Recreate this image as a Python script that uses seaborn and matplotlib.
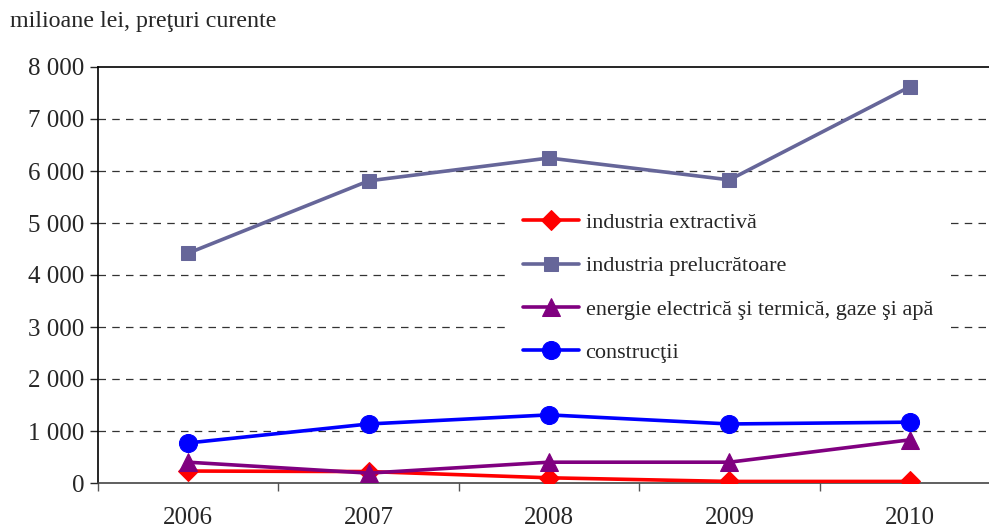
import matplotlib
matplotlib.use("Agg")
import matplotlib.pyplot as plt
import matplotlib.ticker as mticker
import seaborn as sns
import pandas as pd

# Values (milioane lei)
years = ["2006", "2007", "2008", "2009", "2010"]
extractiva = [230, 220, 100, 30, 30]
prelucratoare = [4420, 5810, 6250, 5830, 7620]
energie = [400, 190, 400, 400, 830]
constructii = [770, 1135, 1310, 1135, 1170]

series_names = [
    "industria extractivă",
    "industria prelucrătoare",
    "energie electrică şi termică, gaze şi apă",
    "construcţii",
]
colors = ["#FF0000", "#666699", "#800080", "#0000FF"]
markers = ["D", "s", "^", "o"]
msizes = [10, 10, 13, 13]

df = pd.DataFrame({
    "an": list(range(len(years))) * 4,
    "valoare": extractiva + prelucratoare + energie + constructii,
    "serie": [n for n in series_names for _ in years],
})

sns.set_style("white")
plt.rcParams["font.family"] = ["Liberation Serif", "DejaVu Serif"]

fig = plt.figure(figsize=(9.89, 5.29), dpi=100)
ax = fig.add_axes([98 / 989, 1 - 483 / 529, (1000 - 98) / 989, (483 - 67) / 529])

for name, c, m, ms in zip(series_names, colors, markers, msizes):
    sub = df[df["serie"] == name]
    sns.lineplot(data=sub, x="an", y="valoare", ax=ax, color=c, marker=m,
                 markersize=ms, markeredgecolor=c, linewidth=2.6, label=name,
                 zorder=3)

# axes / grid
ax.set_xlim(-0.5, 4.5)
ax.set_ylim(0, 8000)
ax.yaxis.set_major_locator(mticker.MultipleLocator(1000))
ax.yaxis.set_major_formatter(mticker.FuncFormatter(
    lambda v, p: f"{int(v):,}".replace(",", " ")))
ax.set_xticks(range(len(years)))
ax.set_xticklabels(years)
ax.xaxis.set_minor_locator(mticker.FixedLocator([-0.5, 0.5, 1.5, 2.5, 3.5, 4.5]))
ax.tick_params(axis="x", which="major", length=0, pad=17, labelsize=18)
ax.tick_params(axis="x", which="minor", length=6, width=1, color="#555555",
               direction="out", bottom=True)
ax.tick_params(axis="y", length=6, width=1, direction="out", left=True,
               labelsize=18, pad=4)
ax.set_xlabel("")
ax.set_ylabel("")

for v in range(1000, 8000, 1000):
    ax.axhline(v, color="#333333", linewidth=0.9, linestyle=(0, (6, 5)), zorder=1)

ax.spines["right"].set_visible(False)
ax.spines["left"].set_color("black")
ax.spines["left"].set_linewidth(1.2)
ax.spines["top"].set_color("black")
ax.spines["top"].set_linewidth(1.2)
ax.spines["bottom"].set_color("#444444")
ax.spines["bottom"].set_linewidth(1.2)

leg = ax.legend(loc="upper left", bbox_to_anchor=(510 / 989, 1 - 199 / 529),
                bbox_transform=fig.transFigure, frameon=True, fontsize=16,
                handlelength=2.5, handletextpad=0.3, labelspacing=1.03,
                borderpad=0.6, borderaxespad=0, fancybox=False)
leg.get_frame().set_facecolor("white")
leg.get_frame().set_edgecolor("none")
leg.get_frame().set_alpha(1)
leg.set_zorder(5)

fig.text(10 / 989, 1 - 22 / 529, "milioane lei, preţuri curente",
         fontsize=17.3, va="center", ha="left")

fig.savefig("out.png", dpi=100)
